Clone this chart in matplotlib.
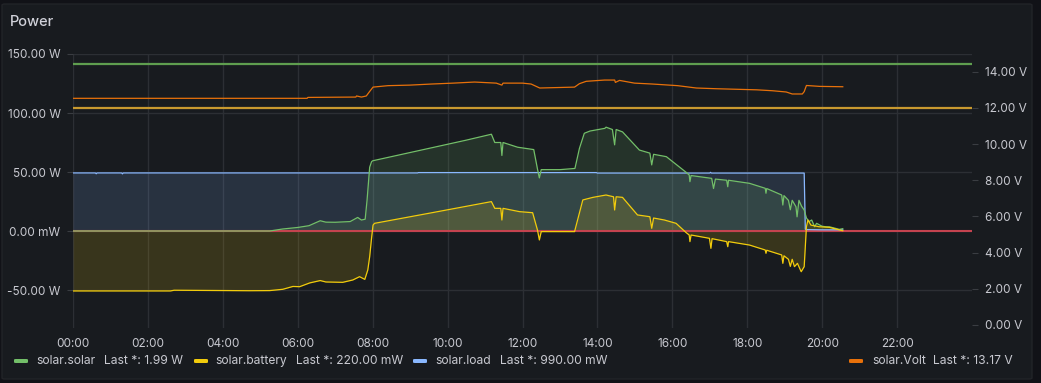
import matplotlib
matplotlib.use("Agg")
import matplotlib.pyplot as plt
from matplotlib.patches import FancyBboxPatch
import numpy as np

plt.rcParams['font.family'] = ['Inter', 'DejaVu Sans']

# ---------------- data (hours of day) ----------------
solar_t = [0, 5.25, 5.6, 6.0, 6.3, 6.6, 6.75, 7.0, 7.4, 7.6, 7.7, 7.8, 7.85, 7.92, 7.97, 8.0,
           9.5, 10.5, 11.17, 11.26, 11.42, 11.45, 11.48, 11.87, 12.3, 12.4, 12.45, 12.5, 13.0,
           13.4, 13.52, 13.65, 13.8, 14.2, 14.23, 14.4, 14.46, 14.5, 14.67, 15.12, 15.4, 15.45,
           15.5, 15.84, 16.37, 16.45, 16.47, 16.5, 17.05, 17.1, 17.15, 17.45, 17.48, 17.5, 18.06,
           18.48, 18.5, 18.52, 18.92, 18.95, 18.98, 19.1, 19.15, 19.2, 19.3, 19.33, 19.38, 19.45,
           19.52, 19.58, 19.65, 19.72, 19.8, 19.85, 20.0, 20.1, 20.2, 20.46, 20.55]
solar_w = [0, 0, 1.7, 3.0, 4.5, 8.7, 7.5, 7.4, 8.0, 11.5, 9.3, 10.0, 26.0, 54.0, 58.7, 59.5,
           70.0, 77.0, 82.0, 75.0, 75.0, 64.0, 75.0, 71.0, 69.0, 52.5, 45.0, 52.0, 52.0,
           53.0, 70.0, 82.8, 84.7, 87.0, 88.0, 86.0, 73.0, 86.0, 84.0, 68.6, 66.0, 56.0,
           65.0, 63.0, 49.7, 47.5, 41.8, 47.0, 44.6, 36.0, 44.0, 43.0, 37.5, 43.0, 40.4,
           36.2, 32.0, 36.0, 30.5, 22.0, 30.0, 26.0, 18.0, 26.0, 20.6, 12.0, 26.0, 21.0,
           17.8, 11.0, 8.0, 9.3, 3.6, 6.5, 4.0, 3.6, 3.5, 1.4, 1.99]

battery_t = [0, 2.6, 2.7, 4.7, 5.25, 5.6, 5.87, 6.05, 6.32, 6.6, 6.75, 7.2, 7.47, 7.65, 7.79,
             7.87, 7.92, 7.97, 8.01, 8.05, 9.5, 11.17, 11.26, 11.42, 11.45, 11.48, 11.92, 12.27,
             12.4, 12.45, 12.5, 13.39, 13.61, 13.88, 14.23, 14.43, 14.46, 14.5, 14.67, 15.07,
             15.4, 15.45, 15.5, 15.79, 16.1, 16.37, 16.45, 16.47, 16.5, 16.99, 17.03, 17.06,
             17.45, 17.48, 17.5, 18.06, 18.48, 18.5, 18.52, 18.92, 18.95, 18.98, 19.1, 19.15,
             19.2, 19.26, 19.34, 19.44, 19.52, 19.58, 19.62, 19.7, 19.92, 20.19, 20.55]
battery_w = [-50.8, -50.8, -50.2, -50.6, -50.5, -49.4, -47.0, -47.2, -44.0, -42.0, -43.2, -43.5,
             -41.5, -38.7, -41.0, -33.0, -21.8, -6.2, 5.0, 6.5, 15.0, 24.9, 19.2, 19.2, 9.3,
             19.2, 16.4, 15.5, 0.8, -7.6, -0.5, -0.5, 26.3, 28.5, 30.5, 29.0, 17.8, 29.0, 28.5,
             13.6, 12.1, 2.3, 11.0, 9.3, 6.5, -1.4, -3.4, -9.0, -3.4, -6.2, -14.7, -6.5, -9.0,
             -13.3, -9.0, -11.9, -16.1, -18.9, -16.3, -20.3, -27.4, -21.0, -24.0, -30.0, -24.0,
             -30.2, -27.4, -34.5, -30.2, 3.6, 9.3, 5.0, 3.6, 3.1, 0.22]

load_t = [0, 0.6, 0.62, 0.64, 1.3, 1.32, 1.34, 4.0, 9.2, 9.22, 13.97, 14.0, 17.0, 17.02, 17.04,
          19.52, 19.55, 19.6, 20.0, 20.55]
load_w = [49.2, 49.2, 48.5, 49.2, 49.2, 48.4, 49.2, 49.2, 49.2, 49.5, 49.5, 49.1, 49.1, 49.7,
          49.1, 49.1, 1.5, 1.2, 1.0, 0.99]

volt_t = [0, 6.25, 6.27, 7.55, 7.57, 7.7, 7.83, 7.92, 8.01, 8.41, 8.99, 9.57, 10.15, 10.72,
          11.3, 11.45, 11.48, 12.0, 12.23, 12.46, 13.39, 13.52, 13.7, 14.19, 14.46, 14.48,
          14.59, 14.99, 15.47, 16.14, 16.64, 17.18, 18.25, 18.67, 19.04, 19.2, 19.47, 19.52,
          19.58, 19.93, 20.55]
volt_v = [12.53, 12.53, 12.58, 12.6, 12.66, 12.6, 12.66, 12.91, 13.15, 13.23, 13.26, 13.32,
          13.37, 13.43, 13.37, 13.26, 13.37, 13.37, 13.32, 13.1, 13.15, 13.34, 13.47, 13.54,
          13.54, 13.41, 13.52, 13.37, 13.32, 13.23, 13.1, 13.06, 13.0, 12.95, 12.88, 12.77,
          12.77, 12.9, 13.24, 13.19, 13.17]

thresh_volt_green = 14.4
thresh_volt_gold = 12.0
thresh_power_red = 0.0

x_ticks = list(range(0, 24, 2))
x_labels = [f"{h:02d}:00" for h in x_ticks]
left_ticks = [-50, 0, 50, 100, 150]
left_labels = ["-50.00 W", "0.00 mW", "50.00 W", "100.00 W", "150.00 W"]
right_ticks = [0, 2, 4, 6, 8, 10, 12, 14]
right_labels = [f"{v:.2f} V" for v in right_ticks]

legend_names = ["solar.solar", "solar.battery", "solar.load", "solar.Volt"]
legend_lasts = ["Last *: 1.99 W", "Last *: 220.00 mW", "Last *: 990.00 mW", "Last *: 13.17 V"]

# ---------------- style ----------------
W, H = 1041, 383
C_SOLAR = '#73bf69'
C_BATT = '#f2cc0c'
C_LOAD = '#8ab8ff'
C_VOLT = '#e8710a'
TXT = '#c8c9d0'
GRID = '#2c2f34'
FS_TICK = 8.5
FS_LEG = 8.7

fig = plt.figure(figsize=(W / 100, H / 100), dpi=100, facecolor='#111217')
panel = FancyBboxPatch((2 / W, 4 / H), 1030 / W, 375 / H,
                       boxstyle="round,pad=0,rounding_size=0.003",
                       transform=fig.transFigure, facecolor='#181b1f',
                       edgecolor='#222428', linewidth=1.0, zorder=-10)
fig.patches.append(panel)

fig.text(10 / W, 1 - 22 / H, "Power", color='#d0d1d9', fontsize=10.5,
         fontweight='medium', va='center', ha='left')

ax = fig.add_axes([73 / W, 1 - 328 / H, (972 - 73) / W, (328 - 54) / H])
ax.set_facecolor('none')
ax2 = ax.twinx()
ax2.set_facecolor('none')

ax.set_xlim(0, 24)
ax.set_ylim(-82.2, 150)
ax2.set_ylim(-0.166, 14.98)

for a in (ax, ax2):
    for s in a.spines.values():
        s.set_visible(False)

ax.set_xticks(x_ticks)
ax.set_xticklabels(x_labels)
ax.set_yticks(left_ticks)
ax.set_yticklabels(left_labels)
ax2.set_yticks(right_ticks)
ax2.set_yticklabels(right_labels)

ax.tick_params(axis='x', length=0, pad=7, colors=TXT, labelsize=FS_TICK)
ax.tick_params(axis='y', length=4, width=0.8, pad=5, color='#3a3d42', labelcolor=TXT, labelsize=FS_TICK)
ax2.tick_params(axis='y', length=4, width=0.8, pad=5, color='#3a3d42', labelcolor=TXT, labelsize=FS_TICK)

ax.grid(True, color=GRID, linewidth=1.0)
ax.set_axisbelow(True)

# fills
a_fill = 0.15
ax.fill_between(load_t, load_w, 0, color=C_LOAD, alpha=a_fill, linewidth=0, zorder=2)
ax.fill_between(solar_t, solar_w, 0, color=C_SOLAR, alpha=a_fill, linewidth=0, zorder=2)
ax.fill_between(battery_t, battery_w, 0, color=C_BATT, alpha=a_fill, linewidth=0, zorder=2)

ax.axhline(thresh_power_red, color='#c4434f', linewidth=1.5, zorder=3)

ax.plot(load_t, load_w, color=C_LOAD, linewidth=0.9, zorder=4)
ax.plot(solar_t, solar_w, color=C_SOLAR, linewidth=0.9, zorder=4)
ax.plot(battery_t, battery_w, color=C_BATT, linewidth=0.9, zorder=4)

ax2.axhline(thresh_volt_green, color='#5f9e4f', linewidth=1.6, zorder=3)
ax2.axhline(thresh_volt_gold, color='#c8992f', linewidth=1.6, zorder=3)
ax2.plot(volt_t, volt_v, color=C_VOLT, linewidth=0.9, zorder=4)

# legend (manual, Grafana-style)
legend_colors = [C_SOLAR, C_BATT, C_LOAD, C_VOLT]
sw_x = [14, 194, 413, 849]
name_x = [36.5, 215.5, 435, 872]
last_x = [103.6, 296, 499.5, 933]
y_leg_px = 361
for name, last, col, x0, xn, xl in zip(legend_names, legend_lasts, legend_colors, sw_x, name_x, last_x):
    sw = FancyBboxPatch((x0 / W, 1 - (y_leg_px + 2) / H), 14 / W, 4 / H,
                        boxstyle="round,pad=0,rounding_size=0.002",
                        transform=fig.transFigure, facecolor=col, edgecolor='none')
    fig.patches.append(sw)
    fig.text(xn / W, 1 - y_leg_px / H, name, color=TXT, fontsize=FS_LEG, va='center', ha='left')
    fig.text(xl / W, 1 - y_leg_px / H, last, color=TXT, fontsize=FS_LEG, va='center', ha='left')

fig.savefig('out.png', dpi=100, facecolor=fig.get_facecolor())
